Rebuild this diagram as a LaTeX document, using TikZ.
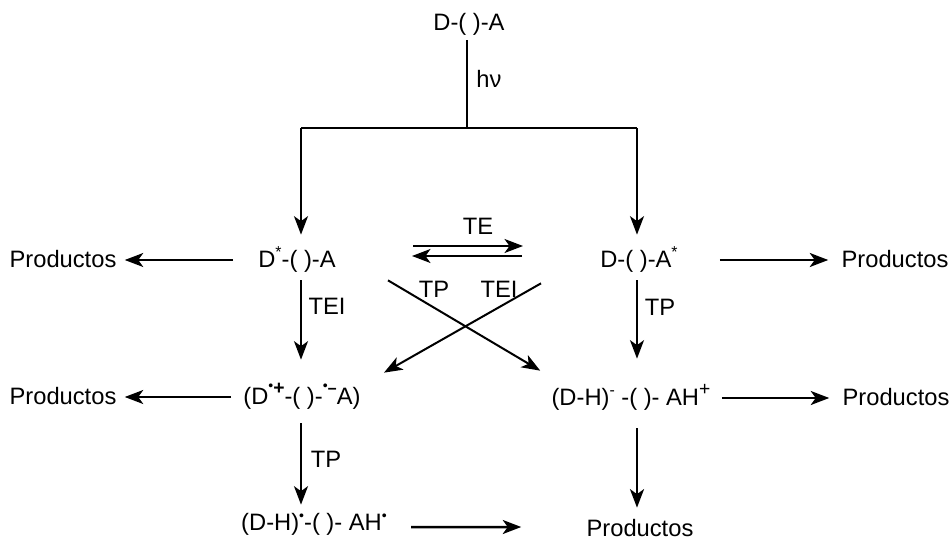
\documentclass[tikz,border=0pt]{standalone}
\usepackage{fontspec}
\setmainfont{Liberation Sans}
\usetikzlibrary{arrows.meta}
\newcommand{\upmark}[1]{\raisebox{0.42em}{\fontsize{9}{9}\selectfont #1}}
\newcommand{\upplus}[1]{\raisebox{0.4em}{\fontsize{11}{11}\selectfont #1}}
\newcommand{\uprad}[1]{\raisebox{#1}{\fontsize{8}{8}\selectfont\textbullet}}
\tikzset{
  species/.style={inner sep=0pt,anchor=base,text height=0.34cm,text depth=0.06cm,font=\fontsize{13.5}{16}\selectfont},
  bond/.style={line width=0.45mm},
  rxn/.style={line width=0.5mm,-{Stealth[length=3.7mm,width=2.8mm,inset=1mm]}},
  thinrxn/.style={rxn,line width=0.4mm},
  gaps/.style 2 args={shorten <=#1*0.02cm,shorten >=#2*0.02cm}
}
\begin{document}
\begin{tikzpicture}[x=0.02cm,y=-0.02cm]
  \useasboundingbox (0,0) rectangle (951,541);
  % species
  \node[species] (ground) at (469,31) {D-( )-A};
  \node[species] (dstar) at (297,267) {D\upmark{*}-( )-A};
  \node[species] (astar) at (639,267) {D-( )-A\upmark{*}};
  \node[species] (dcat) at (302,404) {(D\uprad{0.55em}\upplus{\textbf{+}}-( )-\uprad{0.55em}\upmark{\textbf{\char"2212}}A)};
  \node[species] (dhm) at (631,405) {(D-H)\upmark{-} -( )- AH\upplus{+}};
  \node[species] (drad) at (314,530) {(D-H)\uprad{0.42em}-( )- AH\uprad{0.42em}};
  % products
  \node[species] (prodA) at (63,267) {Productos};
  \node[species] (prodB) at (895,267) {Productos};
  \node[species] (prodC) at (63,404) {Productos};
  \node[species] (prodD) at (896,405) {Productos};
  \node[species] (prodE) at (640,536) {Productos};
  % labels
  \node[species] (hv) at (489,87) {hν};
  \node[species] (te) at (478,234) {TE};
  \node[species] (tpx) at (434,297) {TP};
  \node[species] (teix) at (499,297) {TEI};
  \node[species] (teil) at (327,314) {TEI};
  \node[species] (tpr) at (660,315) {TP};
  \node[species] (tpl) at (326,467) {TP};
  % fork
  \coordinate (busC) at (467,128);
  \coordinate (busL) at (301,128);
  \coordinate (busR) at (637,128);
  \draw[bond,gaps={6}{0}] (ground.south -| busC) -- (busC);
  \draw[bond] (busL) -- (busR);
  \draw[thinrxn,gaps={0}{15}] (busL) -- (busL |- dstar.north);
  \draw[thinrxn,gaps={0}{15}] (busR) -- (busR |- astar.north);
  % vertical steps
  \draw[thinrxn,gaps={10}{27}] (busL |- dstar.south) -- (busL |- dcat.north);
  \draw[thinrxn,gaps={10}{29}] (busR |- astar.south) -- (busR |- dhm.north);
  \draw[thinrxn,gaps={16}{8}] (busL |- dcat.south) -- (busL |- drad.north);
  \draw[rxn,gaps={20}{11}] (busR |- dhm.south) -- (busR |- prodE.north);
  % horizontal steps
  \draw[thinrxn,gaps={25}{8}] (dstar) -- (prodA);
  \draw[rxn,gaps={42}{13}] (astar) -- (prodB);
  \draw[thinrxn,gaps={12}{8}] (dcat) -- (prodC);
  \draw[rxn,gaps={11}{13}] (dhm) -- (prodD);
  \draw[rxn,gaps={24}{65}] ([yshift=-0.08cm]drad.east) -- ([yshift=0.04cm]prodE.west);
  % equilibrium
  \draw[thinrxn] ([shift={(-65,12)}]te.base) -- ([shift={(45,12)}]te.base);
  \draw[thinrxn] ([shift={(44,22)}]te.base) -- ([shift={(-66,22)}]te.base);
  % cross
  \draw[thinrxn] ([shift={(52,10)}]dstar.south east) -- ([shift={(-11,-17)}]dhm.north west);
  \draw[thinrxn] ([shift={(-59,13)}]astar.south west) -- ([shift={(23,-14)}]dcat.north east);
\end{tikzpicture}
\end{document}
